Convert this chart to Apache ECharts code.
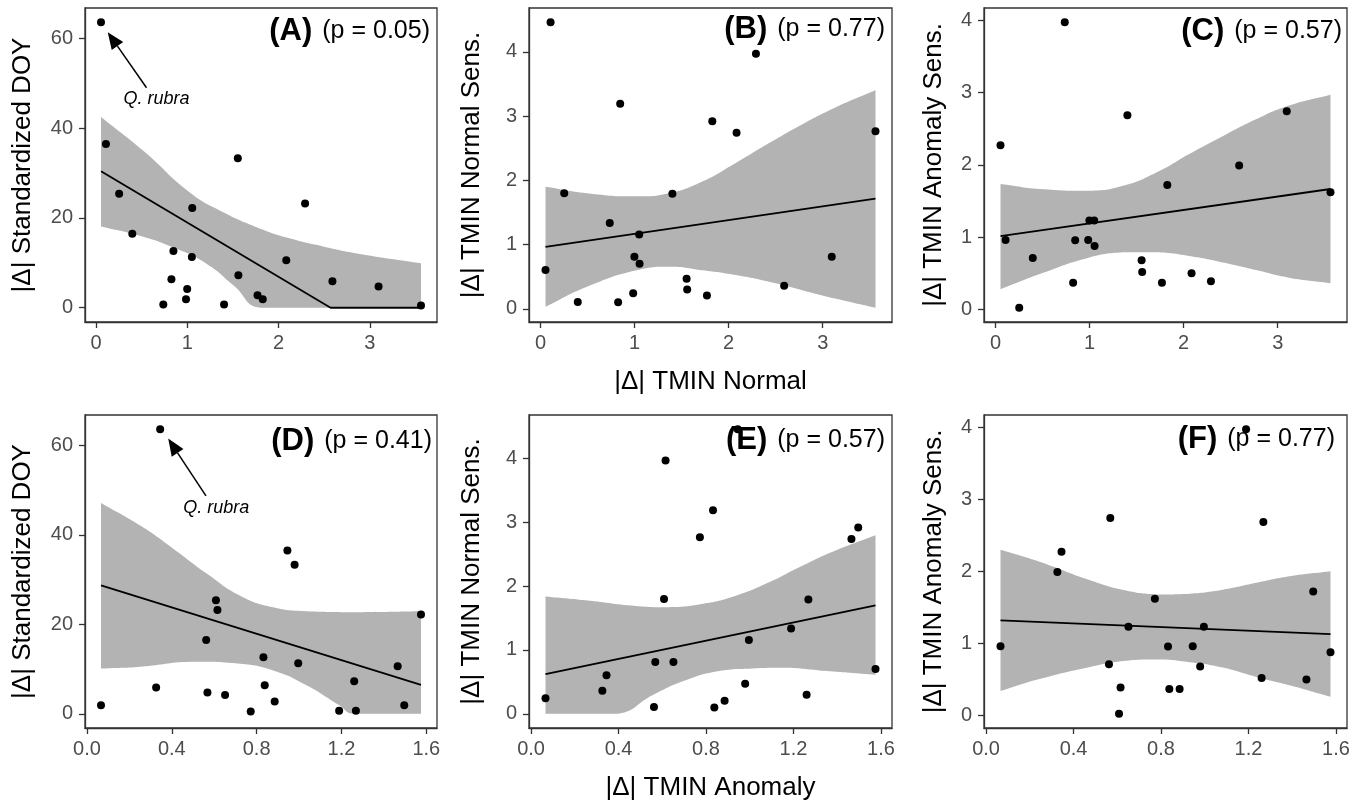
<!DOCTYPE html>
<html>
<head>
<meta charset="utf-8">
<script src="https://cdn.jsdelivr.net/npm/echarts@6/dist/echarts.min.js"></script>
<style>
  html, body { margin: 0; padding: 0; background: #fff; }
  #chart { width: 1365px; height: 804px; }
</style>
</head>
<body>
<div id="chart"></div>
<script>
const FONT = '"Liberation Sans", Arial, Helvetica, sans-serif'

// one entry per species (21)
const tminNormal = [0.053, 0.107, 0.252, 0.396, 0.847, 0.825, 0.736, 0.985, 0.998, 1.053, 1.049,
  1.402, 1.553, 1.559, 1.769, 1.826, 2.084, 2.29, 2.59, 3.096, 3.561]
const tminAnomaly = [0.345, 0.945, 0.608, 0.562, 0.832, 0.838, 1.189, 0.066, 0.651, 1.575, 0.996,
  1.268, 0.979, 1.26, 0.885, 1.496, 1.465, 0.615, 0.326, 0.568, 0.772]
const doyDiff = [63.6, 36.5, 25.4, 16.5, 12.65, 6.35, 0.7, 1.9, 4.2, 22.2, 11.3,
  0.7, 33.3, 7.25, 2.77, 1.88, 10.6, 23.2, 5.9, 4.75, 0.52]
const normalSens = [0.605, 4.46, 1.8, 0.105, 3.19, 0.1, 1.335, 0.243, 0.81, 0.7, 1.155,
  1.79, 0.469, 0.3, 0.205, 2.92, 2.74, 3.97, 0.36, 0.81, 2.765]
const anomalySens = [2.27, 0.962, 0.025, 0.712, 0.957, 0.37, 3.97, 0.96, 1.232, 0.877, 1.232,
  2.685, 0.68, 0.52, 0.37, 1.72, 0.5, 0.39, 1.99, 2.74, 1.62]

// fitted lines and confidence bands
const fitA = [[0.053, 30.4], [2.57, 0], [3.561, 0]]
const bandAUpper = [[0.053, 42.5], [0.52, 34.9], [1.03, 25.6], [1.4, 21.2], [1.765, 17.9], [2.13, 15.4], [2.5, 13.6], [2.86, 12.1], [3.561, 9.9]]
const bandALower = [[0.053, 18.1], [0.486, 16.0], [0.85, 13.4], [1.217, 9.7], [1.51, 4.9], [1.8, 0], [3.561, 0]]

const fitB = [[0.053, 0.963], [3.561, 1.716]]
const bandBUpper = [[0.053, 1.9], [0.493, 1.8], [1.02, 1.75], [1.37, 1.8], [1.72, 1.98], [2.075, 2.27], [2.43, 2.58], [2.78, 2.87], [3.13, 3.13], [3.561, 3.4]]
const bandBLower = [[0.053, 0.03], [0.493, 0.343], [1.02, 0.6], [1.37, 0.655], [1.72, 0.6], [2.075, 0.525], [2.43, 0.42], [2.78, 0.29], [3.13, 0.16], [3.561, 0.016]]

const fitC = [[0.053, 1.015], [3.561, 1.666]]
const bandCUpper = [[0.053, 1.734], [0.47, 1.665], [1.0, 1.64], [1.355, 1.71], [1.71, 1.895], [2.06, 2.15], [2.42, 2.4], [2.77, 2.63], [3.12, 2.82], [3.561, 2.97]]
const bandCLower = [[0.053, 0.28], [0.47, 0.49], [1.0, 0.72], [1.355, 0.79], [1.71, 0.79], [2.06, 0.74], [2.42, 0.65], [2.77, 0.545], [3.12, 0.44], [3.561, 0.365]]

const fitD = [[0.066, 28.7], [1.575, 6.45]]
const bandDUpper = [[0.066, 47.1], [0.253, 42.0], [0.41, 36.8], [0.566, 31.3], [0.722, 26.4], [0.878, 23.8], [1.035, 22.9], [1.27, 22.7], [1.575, 22.9]]
const bandDLower = [[0.066, 10.1], [0.253, 10.5], [0.488, 11.6], [0.722, 11.2], [0.878, 9.7], [1.035, 6.4], [1.19, 1.9], [1.253, 0], [1.575, 0]]

const fitE = [[0.066, 0.62], [1.575, 1.7]]
const bandEUpper = [[0.066, 1.84], [0.25, 1.78], [0.479, 1.69], [0.63, 1.67], [0.78, 1.72], [0.936, 1.85], [1.088, 2.06], [1.24, 2.32], [1.393, 2.56], [1.575, 2.8]]
const bandELower = [[0.066, 0], [0.4, 0], [0.555, 0.29], [0.707, 0.525], [0.86, 0.67], [1.012, 0.71], [1.164, 0.72], [1.317, 0.68], [1.47, 0.64], [1.575, 0.61]]

const fitF = [[0.066, 1.32], [1.575, 1.13]]
const bandFUpper = [[0.066, 2.3], [0.248, 2.13], [0.476, 1.875], [0.628, 1.74], [0.78, 1.68], [0.932, 1.69], [1.083, 1.745], [1.236, 1.84], [1.387, 1.93], [1.575, 2.0]]
const bandFLower = [[0.066, 0.34], [0.248, 0.51], [0.476, 0.675], [0.628, 0.757], [0.78, 0.776], [0.932, 0.74], [1.083, 0.665], [1.236, 0.535], [1.387, 0.42], [1.575, 0.26]]

// ticks and labels
const xTicksNormal = [0, 1, 2, 3]
const xTicksAnomaly = [0, 0.4, 0.8, 1.2, 1.6]
const yTicksDoy = [0, 20, 40, 60]
const yTicksSens = [0, 1, 2, 3, 4]
const pValues = ['0.05', '0.77', '0.57', '0.41', '0.57', '0.77']

// Q. rubra callout: arrow tail, arrow tip, label centre (data units)
const rubraArrowA = [[0.552, 49.0], [0.127, 61.4]]
const rubraLabelA = [0.661, 46.4]
const rubraArrowD = [[0.561, 48.7], [0.383, 61.5]]
const rubraLabelD = [0.609, 46.0]

const panels = [
  { id: 'A', x: tminNormal, y: doyDiff, fit: fitA, upper: bandAUpper, lower: bandALower, xTicks: xTicksNormal, yTicks: yTicksDoy,
    yName: '|Δ| Standardized DOY', left: 85, top: 8, width: 352, height: 314, yGap: 49, tagX: 430, tagY: 31, arrow: rubraArrowA, label: rubraLabelA },
  { id: 'B', x: tminNormal, y: normalSens, fit: fitB, upper: bandBUpper, lower: bandBLower, xTicks: xTicksNormal, yTicks: yTicksSens,
    yName: '|Δ| TMIN Normal Sens.', xName: '|Δ| TMIN Normal', left: 529, top: 8, width: 363, height: 314, yGap: 44, tagX: 885, tagY: 29 },
  { id: 'C', x: tminNormal, y: anomalySens, fit: fitC, upper: bandCUpper, lower: bandCLower, xTicks: xTicksNormal, yTicks: yTicksSens,
    yName: '|Δ| TMIN Anomaly Sens.', left: 984, top: 8, width: 363, height: 314, yGap: 37, tagX: 1342, tagY: 31.5 },
  { id: 'D', x: tminAnomaly, y: doyDiff, fit: fitD, upper: bandDUpper, lower: bandDLower, xTicks: xTicksAnomaly, yTicks: yTicksDoy,
    yName: '|Δ| Standardized DOY', left: 85, top: 415, width: 352, height: 313, yGap: 49, tagX: 432, tagY: 441.5, arrow: rubraArrowD, label: rubraLabelD },
  { id: 'E', x: tminAnomaly, y: normalSens, fit: fitE, upper: bandEUpper, lower: bandELower, xTicks: xTicksAnomaly, yTicks: yTicksSens,
    yName: '|Δ| TMIN Normal Sens.', xName: '|Δ| TMIN Anomaly', left: 529, top: 415, width: 363, height: 313, yGap: 44, tagX: 885, tagY: 440.5 },
  { id: 'F', x: tminAnomaly, y: anomalySens, fit: fitF, upper: bandFUpper, lower: bandFLower, xTicks: xTicksAnomaly, yTicks: yTicksSens,
    yName: '|Δ| TMIN Anomaly Sens.', left: 984, top: 415, width: 363, height: 313, yGap: 37, tagX: 1335, tagY: 439.5 },
]

// ggplot-style 5% expansion around everything drawn
function padRange(values) {
  const lo = Math.min(...values)
  const hi = Math.max(...values)
  const pad = (hi - lo) * 0.05
  return [lo - pad, hi + pad]
}

// bezier through pixel points, control points kept inside each segment's box
function smoothCommands(pts, s) {
  const clamp = (v, a, b) => Math.min(Math.max(v, Math.min(a, b)), Math.max(a, b))
  const cps = pts.map((pt, k) => {
    const prev = pts[k - 1] || pt
    const next = pts[k + 1] || pt
    const vx = next[0] - prev[0]
    const vy = next[1] - prev[1]
    const d0 = Math.hypot(pt[0] - prev[0], pt[1] - prev[1])
    const d1 = Math.hypot(next[0] - pt[0], next[1] - pt[1])
    const tot = d0 + d1 || 1
    return {
      before: [clamp(pt[0] - vx * s * d0 / tot, pt[0], prev[0]), clamp(pt[1] - vy * s * d0 / tot, pt[1], prev[1])],
      after: [clamp(pt[0] + vx * s * d1 / tot, pt[0], next[0]), clamp(pt[1] + vy * s * d1 / tot, pt[1], next[1])],
    }
  })
  let d = ''
  for (let k = 1; k < pts.length; k++) {
    const a = cps[k - 1].after
    const b = cps[k].before
    d += ` C${a[0]} ${a[1]} ${b[0]} ${b[1]} ${pts[k][0]} ${pts[k][1]}`
  }
  return d
}

const grid = []
const xAxis = []
const yAxis = []
const series = []
const graphic = []

panels.forEach((p, i) => {
  const xr = padRange(p.x)
  const yr = padRange(p.y.concat(p.upper.map((d) => d[1]), p.lower.map((d) => d[1])))
  const decimals = p.xTicks.some((t) => t % 1 !== 0) ? 1 : 0

  grid.push({
    left: p.left, top: p.top, width: p.width, height: p.height,
    show: true, borderColor: '#333', borderWidth: 1.3, backgroundColor: 'transparent',
    containLabel: false, outerBoundsMode: 'none',
  })

  xAxis.push({
    type: 'value', gridIndex: i, min: xr[0], max: xr[1], z: 10,
    axisLine: { show: true, onZero: false, lineStyle: { color: '#333', width: 1.3 } },
    axisTick: { show: true, length: 6, customValues: p.xTicks, lineStyle: { color: '#333', width: 1.3 } },
    axisLabel: {
      customValues: p.xTicks, margin: 11, fontSize: 20, color: '#4D4D4D', fontFamily: FONT,
      formatter: (v) => Number(v).toFixed(decimals),
    },
    splitLine: { show: false },
    name: p.xName || '', nameLocation: 'middle', nameGap: 47,
    nameTextStyle: { fontSize: 26, color: '#000', fontFamily: FONT },
  })

  yAxis.push({
    type: 'value', gridIndex: i, min: yr[0], max: yr[1], z: 10,
    axisLine: { show: true, onZero: false, lineStyle: { color: '#333', width: 1.3 } },
    axisTick: { show: true, length: 6, customValues: p.yTicks, lineStyle: { color: '#333', width: 1.3 } },
    axisLabel: { customValues: p.yTicks, margin: 12, fontSize: 20, color: '#4D4D4D', fontFamily: FONT },
    splitLine: { show: false },
    name: p.yName, nameLocation: 'middle', nameGap: p.yGap,
    nameTextStyle: { fontSize: 26, color: '#000', fontFamily: FONT },
  })

  // confidence band as one filled shape between the two bounds
  series.push({
    type: 'custom', xAxisIndex: i, yAxisIndex: i, silent: true, z: 1,
    data: [p.upper[0]],
    renderItem: (params, api) => {
      const up = p.upper.map((d) => api.coord(d))
      const lo = p.lower.map((d) => api.coord(d)).reverse()
      const pathData = `M${up[0][0]} ${up[0][1]}` + smoothCommands(up, 0.5) +
        ` L${lo[0][0]} ${lo[0][1]}` + smoothCommands(lo, 0.5) + ' Z'
      return { type: 'path', shape: { pathData }, style: { fill: '#B3B3B3' } }
    },
  })

  series.push({
    type: 'line', xAxisIndex: i, yAxisIndex: i, data: p.fit,
    symbol: 'none', silent: true, lineStyle: { color: '#000', width: 1.8 }, z: 3,
  })

  const scatter = {
    type: 'scatter', xAxisIndex: i, yAxisIndex: i,
    data: p.x.map((v, k) => [v, p.y[k]]),
    symbolSize: 8, itemStyle: { color: '#000', opacity: 1 }, z: 4,
  }
  if (p.label) {
    scatter.markPoint = {
      silent: true, animation: false, symbol: 'circle', symbolSize: 0,
      label: {
        show: true, position: 'inside', formatter: 'Q. rubra',
        fontStyle: 'italic', fontSize: 18, color: '#000', fontFamily: FONT,
      },
      data: [{ coord: p.label }],
    }
  }
  series.push(scatter)

  if (p.arrow) {
    series.push({
      type: 'custom', xAxisIndex: i, yAxisIndex: i, silent: true, z: 5,
      data: [p.arrow[0]],
      renderItem: (params, api) => {
        const t = api.coord(p.arrow[0])
        const h = api.coord(p.arrow[1])
        const len = Math.hypot(h[0] - t[0], h[1] - t[1])
        const ux = (h[0] - t[0]) / len
        const uy = (h[1] - t[1]) / len
        const headLen = 17
        const headHalf = 7
        const bx = h[0] - ux * headLen
        const by = h[1] - uy * headLen
        return {
          type: 'group',
          children: [
            { type: 'line', shape: { x1: t[0], y1: t[1], x2: bx, y2: by }, style: { stroke: '#000', lineWidth: 1.5 } },
            {
              type: 'polygon',
              shape: { points: [[h[0], h[1]], [bx - uy * headHalf, by + ux * headHalf], [bx + uy * headHalf, by - ux * headHalf]] },
              style: { fill: '#000' },
            },
          ],
        }
      },
    })
  }

  graphic.push({
    type: 'text', x: p.tagX, y: p.tagY, z: 100, silent: true,
    style: {
      text: `{b|(${p.id})}{n|(p = ${pValues[i]})}`,
      align: 'right', verticalAlign: 'middle',
      rich: {
        b: { fontSize: 31, fontWeight: 'bold', fontFamily: FONT, fill: '#000' },
        n: { fontSize: 25, fontFamily: FONT, fill: '#000', padding: [0, 0, 0, 10] },
      },
    },
  })
})

const chart = echarts.init(document.getElementById('chart'))
chart.setOption({
  animation: false,
  backgroundColor: '#fff',
  grid, xAxis, yAxis, series, graphic,
})
window.addEventListener('resize', () => chart.resize())
</script>
</body>
</html>
